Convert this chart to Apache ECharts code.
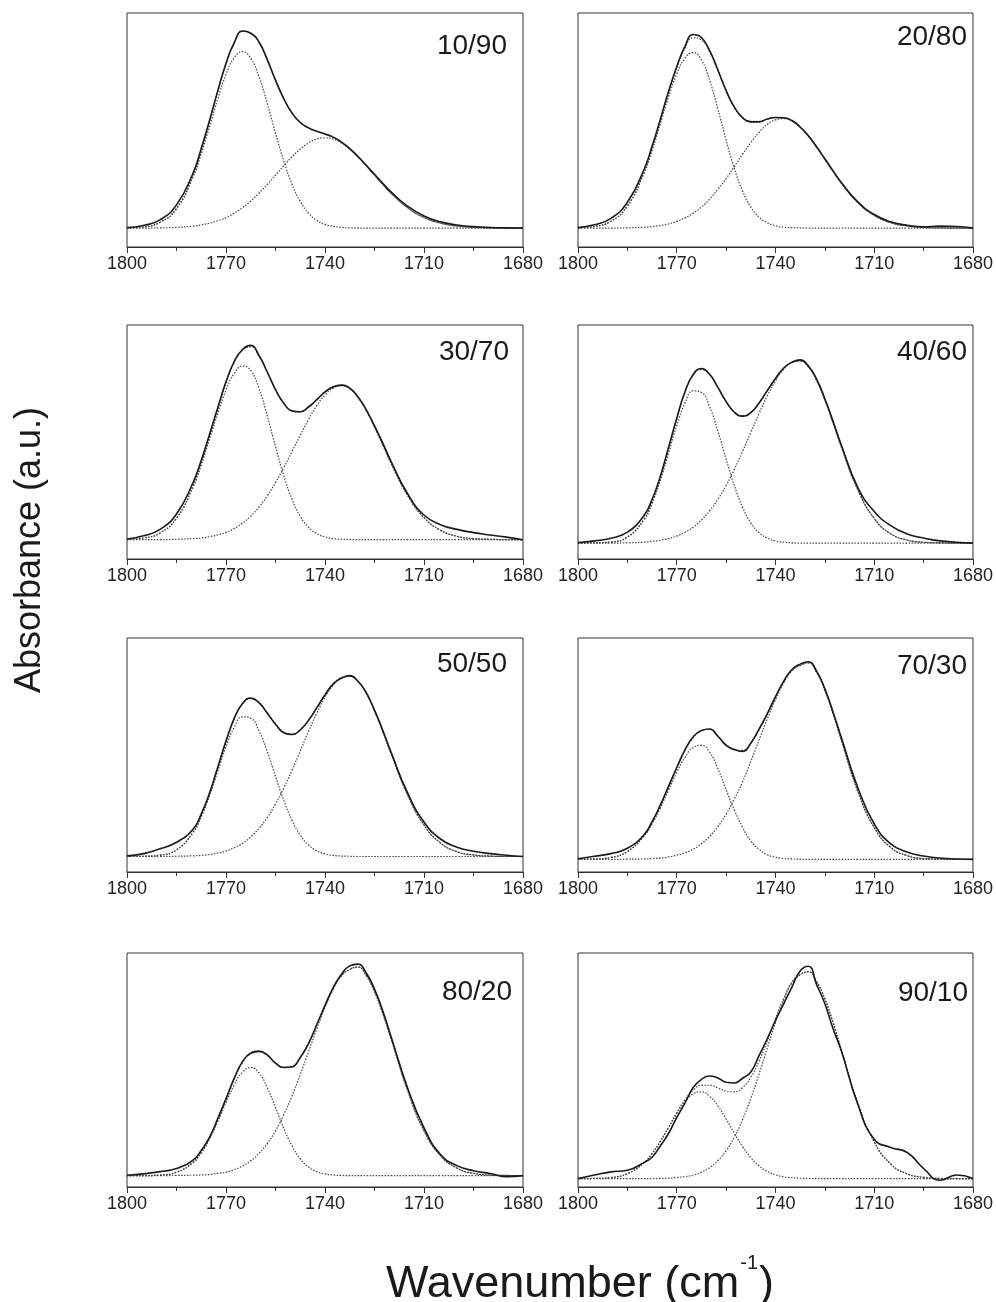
<!DOCTYPE html>
<html>
<head>
<meta charset="utf-8">
<title>Absorbance vs wavenumber</title>
<script src="https://cdn.jsdelivr.net/npm/echarts@6/dist/echarts.min.js"></script>
<style>
  html, body { margin: 0; padding: 0; background: #fff; }
  #chart { width: 996px; height: 1302px; }
</style>
</head>
<body>
<div id="chart"></div>
<script>
// wavenumber samples (cm-1), shared by every curve; finer steps across the bands
const wavenumbers = [1800, 1795, 1790, 1785, 1780, 1777.5, 1775, 1772.5, 1770, 1767.5, 1765, 1762.5,
  1760, 1757.5, 1755, 1752.5, 1750, 1747.5, 1745, 1742.5, 1740, 1737.5, 1735, 1732.5, 1730, 1727.5,
  1725, 1722.5, 1720, 1715, 1710, 1705, 1700, 1695, 1690, 1685, 1680];

const panelLabels = ['10/90', '20/80', '30/70', '40/60', '50/50', '70/30', '80/20', '90/10'];

// 10/90
const measured1090 = [0.2, 1.2, 3.8, 10.8, 25.5, 37, 50, 63.8, 76.5, 86.2, 91.6, 90.6, 86.5, 78.3, 68.8, 60.2, 53.5, 49.1, 46.6, 45.0, 43.7, 42.3, 40, 36.9, 33.3, 29.2, 25, 20.8, 16.8, 10.2, 5.6, 2.9, 1.4, 0.7, 0.3, 0.1, 0];
const fit1090 = [0.1, 0.6, 2.7, 9.2, 24.5, 36.0, 49.4, 63.4, 76.3, 86.1, 91.5, 90.5, 86.5, 78.3, 68.8, 60.2, 53.5, 49.1, 46.6, 45.0, 43.7, 42.2, 39.9, 36.8, 33.1, 29.0, 24.6, 20.3, 16.2, 9.5, 4.9, 2.3, 0.9, 0.3, 0.1, 0, 0];
const peakA1090 = [0.1, 0.6, 2.6, 8.9, 23.6, 34.5, 47.1, 60.0, 71.4, 79.2, 82, 78.9, 70.3, 58.0, 44.2, 31.2, 20.4, 12.4, 7.0, 3.6, 1.7, 0.8, 0.3, 0.1, 0, 0, 0, 0, 0, 0, 0, 0, 0, 0, 0, 0, 0];
const peakB1090 = [0, 0, 0.1, 0.3, 0.9, 1.5, 2.3, 3.4, 4.9, 6.9, 9.5, 12.6, 16.2, 20.3, 24.6, 29.0, 33.1, 36.7, 39.6, 41.4, 42, 41.4, 39.6, 36.7, 33.1, 29.0, 24.6, 20.3, 16.2, 9.5, 4.9, 2.3, 0.9, 0.3, 0.1, 0, 0];

// 20/80
const measured2080 = [0.2, 1.5, 4.5, 12, 27, 38, 50.5, 63.5, 75, 84.5, 90, 88.6, 82.5, 73.5, 63.9, 56.2, 51.3, 49.4, 49.4, 50.7, 51.4, 51.3, 50, 47, 42.9, 37.8, 32.2, 26.6, 21.2, 12.2, 6.3, 2.9, 1.3, 0.6, 0.9, 0.7, 0];
const fit2080 = [0.2, 0.8, 3.2, 10.3, 25.7, 36.8, 49.7, 62.8, 74.7, 83.7, 88.5, 87.4, 82.1, 73.3, 63.9, 56.3, 51.5, 49.6, 49.6, 50.7, 51.4, 51.3, 49.9, 46.9, 42.7, 37.6, 32.0, 26.3, 20.9, 11.9, 5.9, 2.5, 1.0, 0.3, 0.1, 0, 0];
const peakA2080 = [0.2, 0.8, 3.2, 10.2, 25.3, 36.1, 48.5, 60.9, 71.6, 79.0, 81.6, 78.2, 68.6, 55.3, 40.9, 27.7, 17.2, 9.8, 5.1, 2.5, 1.1, 0.4, 0.2, 0.1, 0, 0, 0, 0, 0, 0, 0, 0, 0, 0, 0, 0, 0];
const peakB2080 = [0, 0, 0, 0.1, 0.4, 0.7, 1.2, 1.9, 3.1, 4.7, 6.9, 9.8, 13.5, 18.0, 23.0, 28.6, 34.3, 39.8, 44.5, 48.2, 50.3, 50.9, 49.7, 46.8, 42.7, 37.6, 32.0, 26.3, 20.9, 11.9, 5.9, 2.5, 1.0, 0.3, 0.1, 0, 0];

// 30/70
const measured3070 = [0.3, 1.8, 4.8, 12, 26.5, 37, 49, 61.5, 73.5, 83, 88.6, 90.5, 85.8, 78.1, 69.9, 63.5, 60.0, 59.6, 61.8, 65.2, 68.8, 71.2, 72, 70.6, 66.5, 60.5, 53, 45, 36.5, 21.5, 11.5, 7, 4.8, 3.3, 2.2, 1.2, 0];
const fit3070 = [0.1, 0.8, 3.1, 10.1, 24.9, 35.6, 48.1, 61.0, 73.1, 82.6, 88.3, 89.8, 85.6, 78.1, 69.9, 63.5, 60.0, 59.6, 61.8, 65.2, 68.7, 71.1, 71.9, 70.4, 66.3, 60.2, 52.6, 44.2, 35.7, 20.7, 10.3, 4.4, 1.6, 0.5, 0.2, 0, 0];
const peakA3070 = [0.1, 0.8, 3.1, 9.9, 24.4, 34.8, 46.7, 58.8, 69.7, 77.4, 80.9, 78.8, 70.4, 57.7, 43.3, 29.9, 18.9, 10.9, 5.8, 2.8, 1.3, 0.5, 0.2, 0.1, 0, 0, 0, 0, 0, 0, 0, 0, 0, 0, 0, 0, 0];
const peakB3070 = [0, 0, 0, 0.2, 0.5, 0.8, 1.4, 2.2, 3.4, 5.2, 7.7, 11.0, 15.2, 20.4, 26.6, 33.6, 41.1, 48.7, 56.0, 62.4, 67.4, 70.6, 71.7, 70.3, 66.3, 60.2, 52.6, 44.2, 35.7, 20.7, 10.3, 4.4, 1.6, 0.5, 0.2, 0, 0];

// 40/60
const measured4060 = [0.3, 1.0, 2.2, 5, 12.5, 20, 30.5, 43.8, 57.2, 69.4, 77.3, 80, 77.4, 71.4, 64.9, 60.0, 58.2, 59.8, 64.2, 69.9, 75.5, 80.3, 82.9, 84, 81.2, 75.2, 66.2, 55.8, 45, 25.5, 14.5, 8, 4.2, 2.3, 1.0, 0.4, 0];
const fit4060 = [0, 0.1, 0.5, 2.8, 10.9, 18.9, 29.9, 43.2, 57.0, 69.2, 77.1, 79.7, 77.2, 71.4, 64.9, 60.2, 58.4, 60.0, 64.2, 69.8, 75.4, 80.1, 82.9, 83.5, 80.8, 74.6, 65.6, 55.1, 44.1, 24.5, 11.3, 4.3, 1.4, 0.4, 0.1, 0, 0];
const peakA4060 = [0, 0.1, 0.5, 2.7, 10.5, 18.1, 28.6, 41.1, 53.8, 64.2, 69.8, 69.1, 62.4, 51.3, 38.5, 26.3, 16.4, 9.3, 4.8, 2.3, 1.0, 0.4, 0.1, 0, 0, 0, 0, 0, 0, 0, 0, 0, 0, 0, 0, 0, 0];
const peakB4060 = [0, 0, 0, 0.1, 0.4, 0.8, 1.3, 2.1, 3.2, 5.0, 7.3, 10.6, 14.8, 20.1, 26.4, 33.9, 42.0, 50.7, 59.4, 67.5, 74.4, 79.7, 82.8, 83.5, 80.8, 74.6, 65.6, 55.1, 44.1, 24.5, 11.3, 4.3, 1.4, 0.4, 0.1, 0, 0];

// 50/50
const measured5050 = [0.3, 1.3, 3.5, 6.5, 12.5, 19.5, 29, 40.8, 52.8, 63.2, 70, 72.5, 70.4, 65.6, 60.5, 56.6, 55.8, 57.9, 62.3, 68, 74, 79, 81.6, 82.8, 80.2, 75, 67, 57.8, 47.8, 29.2, 15.8, 8, 4.2, 2.4, 1.3, 0.6, 0];
const fit5050 = [0, 0.1, 0.6, 3.1, 11.2, 18.7, 28.7, 40.6, 52.6, 63.1, 69.9, 72.3, 70.4, 65.8, 60.7, 57.0, 56.0, 58.1, 62.5, 68.1, 74.0, 78.9, 81.9, 82.5, 80.1, 74.7, 66.7, 57.3, 47.2, 28.3, 14.4, 6.2, 2.2, 0.7, 0.2, 0, 0];
const peakA5050 = [0, 0.1, 0.6, 3.0, 10.9, 18.2, 27.8, 39.0, 50.1, 59.1, 63.9, 63.3, 57.5, 48.0, 36.7, 25.7, 16.6, 9.8, 5.3, 2.6, 1.2, 0.5, 0.2, 0.1, 0, 0, 0, 0, 0, 0, 0, 0, 0, 0, 0, 0, 0];
const peakB5050 = [0, 0, 0, 0.1, 0.3, 0.5, 0.9, 1.6, 2.5, 4.0, 6.0, 9.0, 12.9, 17.8, 24.0, 31.3, 39.4, 48.3, 57.2, 65.5, 72.8, 78.4, 81.7, 82.4, 80.1, 74.7, 66.7, 57.3, 47.2, 28.3, 14.4, 6.2, 2.2, 0.7, 0.2, 0, 0];

// 70/30
const measured7030 = [0.3, 1.4, 2.6, 5, 11, 17, 24.5, 33, 41.5, 49.5, 55.3, 58.2, 58.9, 55.6, 51.5, 49.6, 48.8, 52.5, 58.8, 65.8, 73.5, 80.5, 85.8, 88.2, 89.3, 85, 77, 66.5, 55, 32.5, 16, 7, 3.3, 1.5, 0.6, 0.2, 0];
const fit7030 = [0, 0.2, 0.9, 3.6, 10.6, 16.5, 23.8, 32.4, 41.2, 49.1, 55.1, 58.1, 58.8, 55.8, 51.9, 49.8, 49.2, 52.6, 58.5, 65.5, 73.2, 80.1, 85.4, 87.7, 88.8, 84.5, 76.5, 65.9, 53.9, 30.8, 14.4, 5.4, 1.7, 0.4, 0.1, 0, 0];
const peakA7030 = [0, 0.2, 0.9, 3.5, 10.4, 16.1, 23.2, 31.3, 39.3, 46.1, 50.5, 51.5, 48.4, 41.0, 31.5, 22.3, 14.5, 8.3, 4.6, 2.1, 1.0, 0.4, 0.2, 0.1, 0, 0, 0, 0, 0, 0, 0, 0, 0, 0, 0, 0, 0];
const peakB7030 = [0, 0, 0, 0.1, 0.2, 0.4, 0.6, 1.1, 1.9, 3.0, 4.6, 7.1, 10.4, 14.8, 20.4, 27.3, 35, 44.3, 53.9, 63.4, 72.2, 79.7, 85.2, 87.6, 88.8, 84.5, 76.5, 65.9, 53.9, 30.8, 14.4, 5.4, 1.7, 0.4, 0.1, 0, 0];

// 80/20
const measured8020 = [0.2, 0.8, 1.8, 3.2, 7, 11.3, 17.2, 25.6, 34.5, 43.8, 51.2, 55.0, 55.8, 54.2, 50.5, 48.6, 48.8, 53.1, 59.3, 67.8, 76.5, 84.5, 90.5, 94.2, 95, 91, 83.8, 74, 62.5, 39.5, 21.5, 9.5, 4.5, 2.2, 1.0, -0.5, 0];
const fit8020 = [0, 0, 0.3, 1.6, 6.0, 10.5, 16.9, 25.3, 34.4, 43.5, 50.8, 55.2, 56.1, 53.9, 50.7, 48.7, 49.2, 53.0, 59.5, 67.7, 76.3, 84.1, 89.9, 92.6, 93.7, 89.8, 82.7, 72.9, 61.6, 38.5, 20.2, 9.0, 3.4, 1.0, 0.3, 0.1, 0];
const peakA8020 = [0, 0, 0.3, 1.5, 5.8, 10.2, 16.4, 24.3, 32.8, 40.8, 46.5, 48.5, 46.1, 39.5, 30.6, 21.3, 13.4, 7.6, 3.9, 1.8, 0.8, 0.3, 0.1, 0, 0, 0, 0, 0, 0, 0, 0, 0, 0, 0, 0, 0, 0];
const peakB8020 = [0, 0, 0, 0.1, 0.2, 0.3, 0.5, 1.0, 1.6, 2.7, 4.3, 6.7, 10.0, 14.4, 20.1, 27.4, 35.8, 45.4, 55.6, 65.9, 75.5, 83.8, 89.8, 92.6, 93.7, 89.8, 82.7, 72.9, 61.6, 38.5, 20.2, 9.0, 3.4, 1.0, 0.3, 0.1, 0];

// 90/10
const measured9010 = [0, 1.6, 3.0, 3.7, 7.1, 9.5, 14.5, 20, 27.1, 33.5, 40.4, 44, 45.5, 44.6, 42.7, 42.4, 44.5, 47.3, 54.5, 62, 70.1, 77.5, 84.9, 92, 94.1, 86, 77.5, 66.4, 56.7, 33.0, 17.5, 13.8, 11.6, 4.5, -0.7, 1.6, 0.1];
const fit9010 = [0, 0.1, 0.5, 2.2, 7.0, 11.1, 16.5, 22.8, 29.3, 35.0, 39.2, 41.4, 41.4, 40.2, 38.8, 38.5, 40.4, 44.9, 52.0, 61.1, 70.9, 79.9, 87.1, 90.5, 91.7, 87.3, 79.6, 69.1, 57.1, 33.6, 16.3, 6.5, 2.1, 0.6, 0.1, 0, 0];
const peakA9010 = [0, 0.1, 0.5, 2.2, 7.0, 11.1, 16.4, 22.6, 28.8, 34.1, 37.6, 38.5, 36.5, 32.2, 26.4, 20.1, 14.2, 9.3, 5.7, 3.2, 1.7, 0.8, 0.4, 0.2, 0.1, 0, 0, 0, 0, 0, 0, 0, 0, 0, 0, 0, 0];
const peakB9010 = [0, 0, 0, 0, 0, 0, 0.1, 0.2, 0.5, 0.9, 1.6, 2.9, 4.9, 8.0, 12.4, 18.4, 26.2, 35.6, 46.3, 57.9, 69.2, 79.1, 86.7, 90.3, 91.6, 87.3, 79.6, 69.1, 57.1, 33.6, 16.3, 6.5, 2.1, 0.6, 0.1, 0, 0];

const panelData = [
  [measured1090, fit1090, peakA1090, peakB1090],
  [measured2080, fit2080, peakA2080, peakB2080],
  [measured3070, fit3070, peakA3070, peakB3070],
  [measured4060, fit4060, peakA4060, peakB4060],
  [measured5050, fit5050, peakA5050, peakB5050],
  [measured7030, fit7030, peakA7030, peakB7030],
  [measured8020, fit8020, peakA8020, peakB8020],
  [measured9010, fit9010, peakA9010, peakB9010]
];

// layout
const FONT = "'Liberation Sans', Arial, Helvetica, sans-serif";
const colLeft = [127, 578];
const rowTop = [13, 325, 638, 953];
const panelW = 396, panelH = 234;
const yMin = [-8.8, -8.8, -9.0, -7.3, -7.1, -5.7, -5.1, -3.7];
const labelPos = [[507, 46], [967, 37], [509, 352], [967, 352], [507, 664], [967, 666], [512, 992], [968, 993]];

const chart = echarts.init(document.getElementById('chart'), null, { renderer: 'canvas' });

const grids = [], xAxes = [], yAxes = [], series = [], graphics = [];

panelData.forEach(function (curves, i) {
  const col = i % 2, row = Math.floor(i / 2);
  grids.push({
    left: colLeft[col], top: rowTop[row], width: panelW, height: panelH,
    show: true, borderColor: '#333', borderWidth: 1
  });
  xAxes.push({
    type: 'value', gridIndex: i, min: 1680, max: 1800, interval: 30, inverse: true,
    axisLine: { show: true, onZero: false, lineStyle: { color: '#333', width: 1 } },
    axisTick: { show: true, length: 6, lineStyle: { color: '#333' } },
    minorTick: { show: true, splitNumber: 2, length: 4, lineStyle: { color: '#333' } },
    splitLine: { show: false },
    axisLabel: {
      fontSize: 18, color: '#222', margin: 8, fontFamily: FONT,
      formatter: function (v) { return String(v); }
    }
  });
  yAxes.push({ type: 'value', gridIndex: i, min: yMin[i], max: 100, show: false, splitLine: { show: false } });

  // dotted: fit and two bands, then the measured spectrum on top
  [1, 2, 3, 0].forEach(function (k) {
    const solid = k === 0;
    series.push({
      type: 'line', xAxisIndex: i, yAxisIndex: i,
      data: wavenumbers.map(function (w, j) { return [w, curves[k][j]]; }),
      smooth: true, symbol: 'none', silent: true, z: solid ? 3 : 2,
      lineStyle: solid
        ? { color: '#1a1a1a', width: 1.6 }
        : { color: '#444', width: 1.2, type: [1.5, 1.5] }
    });
  });

  graphics.push({
    type: 'text', x: labelPos[i][0], y: labelPos[i][1], silent: true,
    style: {
      text: panelLabels[i], font: '28px ' + FONT, fill: '#1a1a1a',
      align: 'right', verticalAlign: 'middle', textAlign: 'right', textVerticalAlign: 'middle'
    }
  });
});

// axis titles
graphics.push({
  type: 'text', x: 30, y: 550, rotation: Math.PI / 2, silent: true,
  style: {
    text: 'Absorbance (a.u.)', font: '36px ' + FONT, fill: '#1a1a1a',
    align: 'center', verticalAlign: 'middle', textAlign: 'center', textVerticalAlign: 'middle'
  }
});

function textWidth(str, font) {
  const ctx = document.createElement('canvas').getContext('2d');
  ctx.font = font;
  return ctx.measureText(str).width;
}
const mainFont = '45px ' + FONT, supFont = '20px ' + FONT;
const partA = 'Wavenumber (cm', partSup = '-1', partB = ')';
const wA = textWidth(partA, mainFont), wS = textWidth(partSup, supFont), wB = textWidth(partB, mainFont);
const titleX = 579 - (wA + wS + wB) / 2, titleY = 1285;
graphics.push(
  { type: 'text', x: titleX, y: titleY, silent: true,
    style: { text: partA, font: mainFont, fill: '#1a1a1a', align: 'left', verticalAlign: 'middle', textAlign: 'left', textVerticalAlign: 'middle' } },
  { type: 'text', x: titleX + wA + 1, y: titleY - 22, silent: true,
    style: { text: partSup, font: supFont, fill: '#1a1a1a', align: 'left', verticalAlign: 'middle', textAlign: 'left', textVerticalAlign: 'middle' } },
  { type: 'text', x: titleX + wA + wS + 2, y: titleY, silent: true,
    style: { text: partB, font: mainFont, fill: '#1a1a1a', align: 'left', verticalAlign: 'middle', textAlign: 'left', textVerticalAlign: 'middle' } }
);

chart.setOption({
  animation: false,
  backgroundColor: '#fff',
  grid: grids,
  xAxis: xAxes,
  yAxis: yAxes,
  series: series,
  graphic: graphics
});
</script>
</body>
</html>
